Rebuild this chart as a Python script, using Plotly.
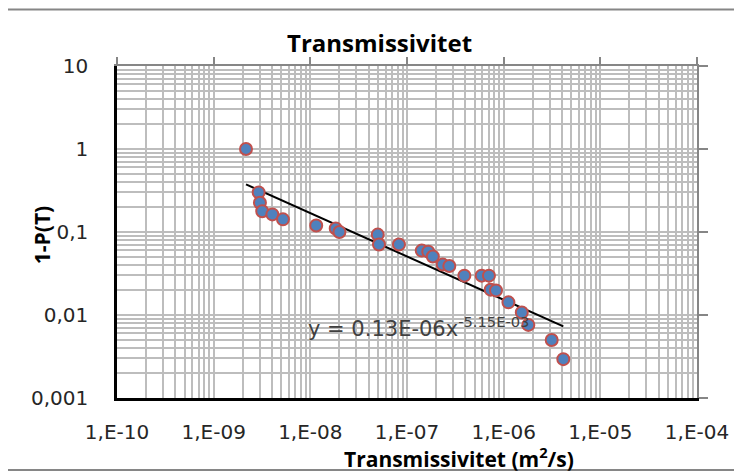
import plotly.graph_objects as go

# Data
transmissivity = [2.16e-9, 2.92e-9, 3.01e-9, 3.18e-9, 4.05e-9, 5.21e-9, 1.15e-8, 1.83e-8,
                  2.0e-8, 4.98e-8, 5.13e-8, 8.26e-8, 1.42e-7, 1.66e-7, 1.85e-7, 2.34e-7,
                  2.74e-7, 3.92e-7, 5.92e-7, 7.04e-7, 7.34e-7, 8.33e-7, 1.12e-6, 1.54e-6,
                  1.80e-6, 3.14e-6, 4.14e-6]
one_minus_p = [1.0, 0.30, 0.225, 0.178, 0.163, 0.142, 0.12, 0.11, 0.10, 0.093, 0.0706,
               0.0706, 0.0597, 0.058, 0.0506, 0.0405, 0.039, 0.0298, 0.0298, 0.0298,
               0.0202, 0.0198, 0.0142, 0.0107, 0.0076, 0.005, 0.00294]

trend_T = [2.16e-9, 4.14e-6]
trend_P = [0.375, 0.00728]

x_tickvals = [1e-10, 1e-9, 1e-8, 1e-7, 1e-6, 1e-5, 1e-4]
x_ticktext = ["1,E-10", "1,E-09", "1,E-08", "1,E-07", "1,E-06", "1,E-05", "1,E-04"]
y_tickvals = [0.001, 0.01, 0.1, 1, 10]
y_ticktext = ["0,001", "0,01", "0,1", "1", "10"]

title_text = "Transmissivitet"
x_title = "Transmissivitet (m<sup>2</sup>/s)"
y_title = "1-P(T)"
equation = "y = 0.13E-06x<sup>-5.15E-03</sup>"

x_minor = [m * v for v in x_tickvals[:-1] for m in range(2, 10)]
y_minor = [m * v for v in y_tickvals[:-1] for m in range(2, 10)]

GRID = "#BDBDBD"
TEXT = "#262626"
TICKFONT = dict(family="DejaVu Sans", size=20, color=TEXT)

fig = go.Figure()
fig.add_trace(go.Scatter(
    x=trend_T, y=trend_P, mode="lines",
    line=dict(color="black", width=2), showlegend=False, hoverinfo="skip"))
fig.add_trace(go.Scatter(
    x=transmissivity, y=one_minus_p, mode="markers",
    marker=dict(size=12, color="#4F81BD", line=dict(color="#C0504D", width=2)),
    showlegend=False))

# the page body adds an 8px offset, so the figure is 8px smaller and shifted
fig.update_layout(
    width=734, height=468,
    margin=dict(l=109, r=45, t=58, b=78),
    paper_bgcolor="white", plot_bgcolor="white",
    xaxis=dict(
        type="log", range=[-10, -4],
        tickmode="array", tickvals=x_tickvals, ticktext=x_ticktext,
        tickfont=TICKFONT, ticks="", ticklabelstandoff=14,
        showgrid=True, gridcolor=GRID, gridwidth=2,
        minor=dict(tickmode="array", tickvals=x_minor, showgrid=True,
                   gridcolor=GRID, gridwidth=2, ticks=""),
        showline=True, linecolor="black", linewidth=2.5, zeroline=False),
    yaxis=dict(
        type="log", range=[-3, 1],
        tickmode="array", tickvals=y_tickvals, ticktext=y_ticktext,
        tickfont=TICKFONT, ticks="", ticklabelstandoff=22,
        showgrid=True, gridcolor=GRID, gridwidth=2,
        minor=dict(tickmode="array", tickvals=y_minor, showgrid=True,
                   gridcolor=GRID, gridwidth=2, ticks=""),
        showline=True, linecolor="black", linewidth=2.5, zeroline=False),
    xaxis2=dict(
        type="log", range=[-10, -4], overlaying="x", side="top",
        tickmode="array", tickvals=x_tickvals, showticklabels=False,
        ticks="outside", ticklen=7, tickcolor="#868686", tickwidth=2,
        showline=True, linecolor="#868686", linewidth=2, showgrid=False, zeroline=False),
    yaxis2=dict(
        type="log", range=[-3, 1], overlaying="y", side="right",
        tickmode="array", tickvals=y_tickvals, showticklabels=False,
        ticks="outside", ticklen=9, tickcolor="#868686", tickwidth=2,
        showline=True, linecolor="#868686", linewidth=2, showgrid=False, zeroline=False),
)

# invisible trace to anchor secondary axes
fig.add_trace(go.Scatter(x=[trend_T[0]], y=[trend_P[0]], xaxis="x2", yaxis="y2",
                         mode="markers", marker=dict(opacity=0), showlegend=False,
                         hoverinfo="skip"))

fig.add_annotation(text=title_text, xref="paper", yref="paper", x=0.4534, y=1.072,
                   xanchor="center", yanchor="middle", showarrow=False,
                   font=dict(family="Open Sans", size=24, color="black", weight="bold"))
fig.add_annotation(text=x_title, xref="paper", yref="paper", x=0.5897, y=-0.18,
                   xanchor="center", yanchor="middle", showarrow=False,
                   font=dict(family="Open Sans", size=21, color="black", weight="bold"))
fig.add_annotation(text=y_title, xref="paper", yref="paper", x=-0.129, y=0.491,
                   xanchor="center", yanchor="middle", textangle=-90, showarrow=False,
                   font=dict(family="Open Sans", size=21, color="black", weight="bold"))
fig.add_annotation(text=equation, xref="paper", yref="paper", x=0.326, y=0.214,
                   xanchor="left", yanchor="middle", showarrow=False,
                   font=dict(family="DejaVu Sans", size=21, color="#404040"))

# chart border (figure starts at page pixel 8)
fig.add_shape(type="rect", xref="paper", yref="paper",
              x0=-186.0 / 580, x1=1.083, y0=-0.2169, y1=1 + 56.5 / 332,
              line=dict(color="#868686", width=2), fillcolor="rgba(0,0,0,0)", layer="below")

fig.write_html("out.html")
